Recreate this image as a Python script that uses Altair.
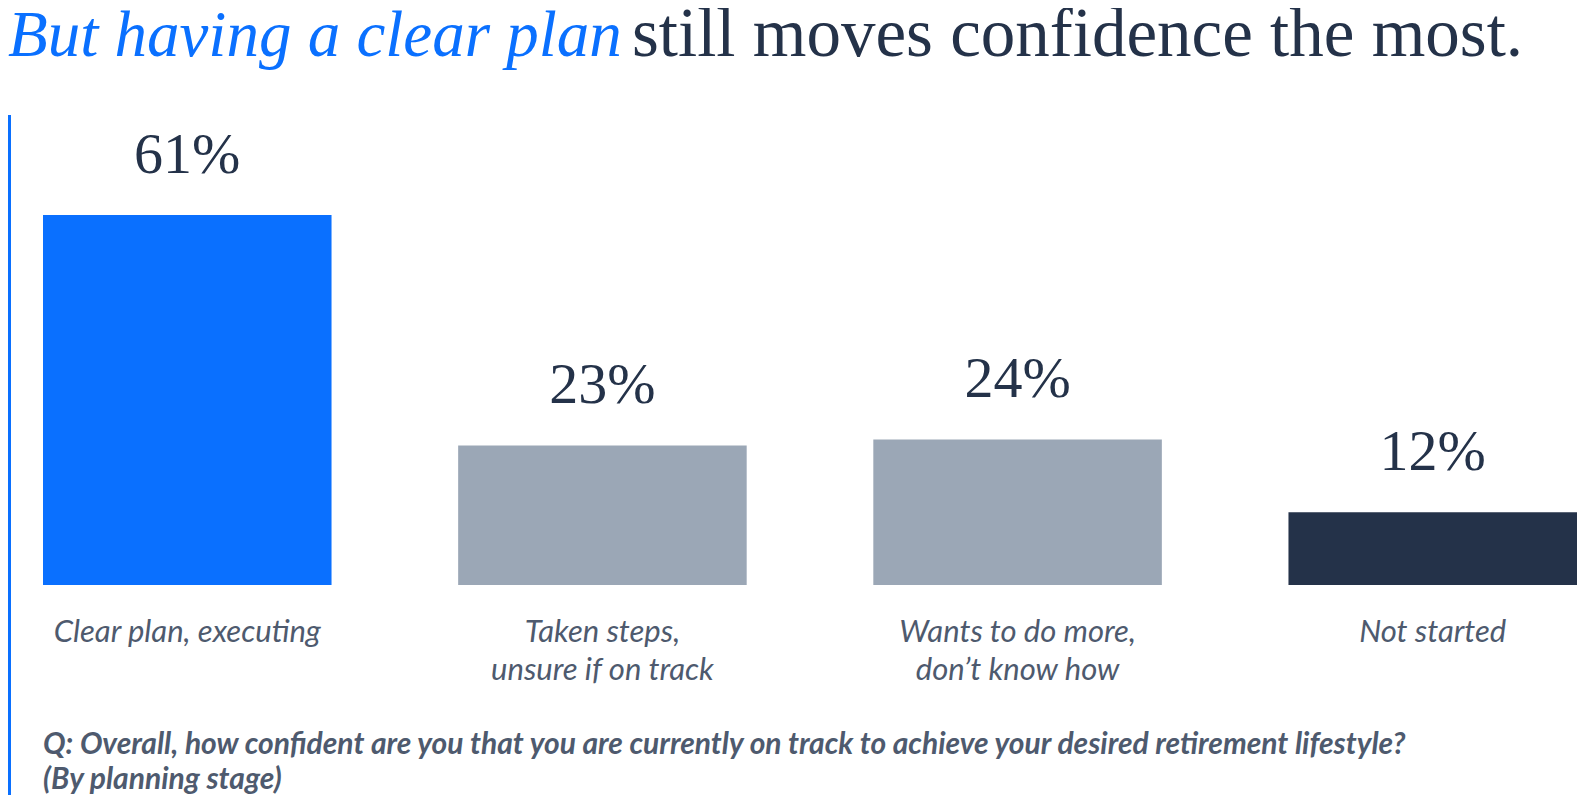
import altair as alt
import pandas as pd

categories = ["Clear plan, executing", "Taken steps, unsure if on track",
              "Wants to do more, don't know how", "Not started"]
label_lines = [["Clear plan, executing"],
               ["Taken steps,", "unsure if on track"],
               ["Wants to do more,", "don\u2019t know how"],
               ["Not started"]]
values = [61, 23, 24, 12]
value_labels = ["61%", "23%", "24%", "12%"]
bar_colors = ["#0A70FF", "#9BA7B6", "#9BA7B6", "#243249"]

title_em = "But having a clear plan"
title_rest = "still moves confidence the most."
footnote = ["Q: Overall, how confident are you that you are currently on track to achieve your desired retirement lifestyle?",
            "(By planning stage)"]

df = pd.DataFrame({
    "category": categories,
    "value": values,
    "vlabel": value_labels,
    "lines": label_lines,
    "color": bar_colors,
})

W, H = 1569, 787
xscale = alt.Scale(domain=categories, range=[35, 1569], paddingInner=0.305, paddingOuter=0)
yscale = alt.Scale(domain=[0, 95.12], range=[577, 0])

x = alt.X("category:N", scale=xscale, axis=None, sort=categories)
y = alt.Y("value:Q", scale=yscale, axis=None)

base = alt.Chart(df)

bars = base.mark_bar(cornerRadius=0).encode(
    x=x, y=y, y2=alt.datum(0),
    color=alt.Color("color:N", scale=None),
)

vals = base.mark_text(font="Liberation Serif", fontSize=58, color="#243249",
                      baseline="alphabetic", align="center", dy=-42).encode(
    x=x, y=y, text="vlabel:N",
)

cats = base.mark_text(font="Lato", fontStyle="italic", fontSize=31, color="#4E5A6E",
                      baseline="alphabetic", align="center", lineHeight=38).encode(
    x=x, y=alt.value(634), text="lines",
)

rule = alt.Chart(pd.DataFrame({"a": [0]})).mark_rule(color="#0A70FF", strokeWidth=3).encode(
    x=alt.value(1.5), y=alt.value(107), y2=alt.value(787),
)

tdf = pd.DataFrame({"t": [title_em]})
t1 = alt.Chart(tdf).mark_text(font="Liberation Serif", fontStyle="italic", fontSize=65,
                              color="#0A70FF", align="left", baseline="alphabetic").encode(
    x=alt.value(0), y=alt.value(48), text="t:N")
t2 = alt.Chart(pd.DataFrame({"t": [title_rest]})).mark_text(
    font="Liberation Serif", fontSize=69, color="#243249", align="left", baseline="alphabetic").encode(
    x=alt.value(624), y=alt.value(48), text="t:N")

fdf = pd.DataFrame({"t": [footnote]})
foot = alt.Chart(fdf).mark_text(font="Lato", fontStyle="italic", fontWeight="bold", fontSize=30,
                                color="#4E5A6E", align="left", baseline="alphabetic", lineHeight=35).encode(
    x=alt.value(35), y=alt.value(746), text="t")

chart = alt.layer(rule, bars, vals, cats, t1, t2, foot).properties(
    width=W, height=H, padding=0, background="white",
    autosize=alt.AutoSizeParams(type="none"),
).configure_view(stroke=None)

chart.save("out.html", embed_options={"renderer": "svg", "actions": False})
